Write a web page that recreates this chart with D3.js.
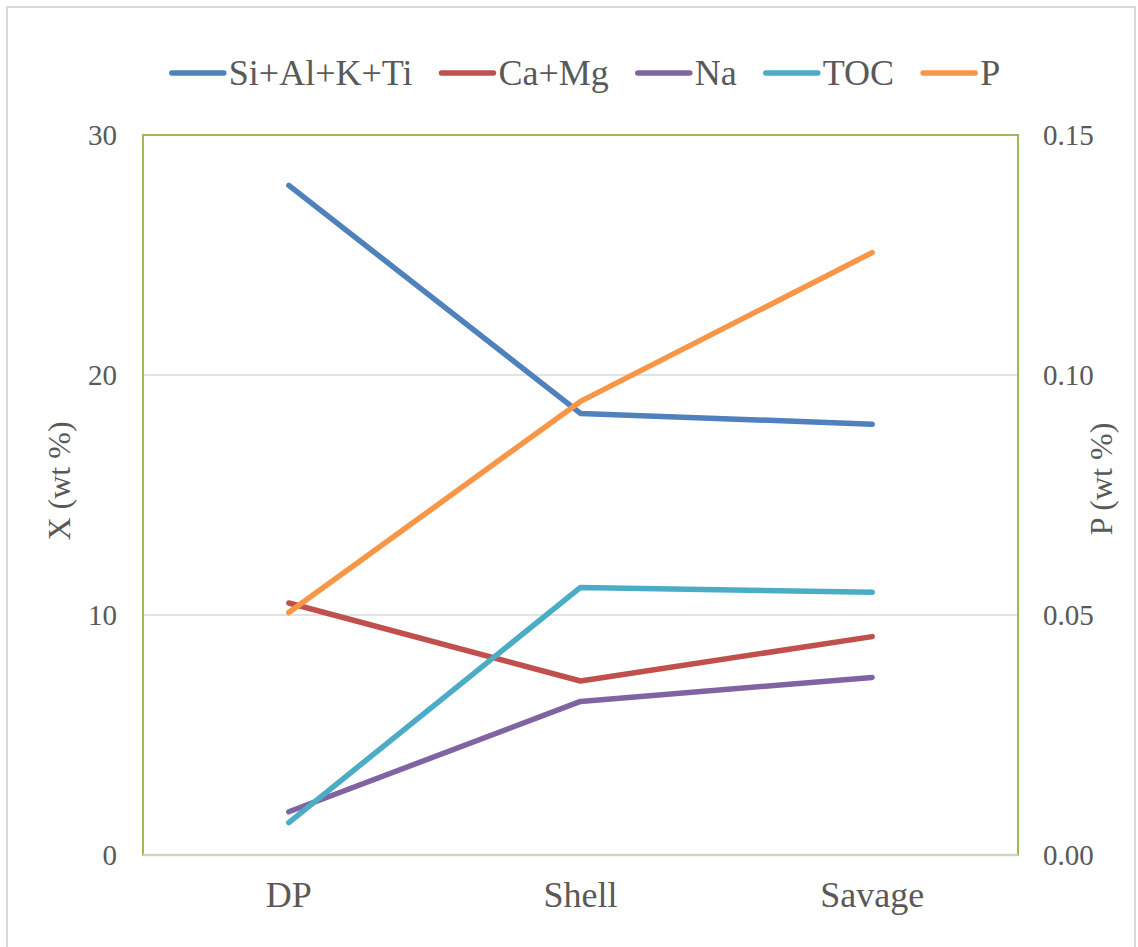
<!DOCTYPE html>
<html>
<head>
<meta charset="utf-8">
<script src="https://cdn.jsdelivr.net/npm/d3@7"></script>
<style>
  html, body { margin: 0; padding: 0; background: #fff; }
  svg { display: block; }
</style>
</head>
<body>
<svg id="chart" width="1138" height="947" font-family="Liberation Serif"></svg>
<script>
// ---- data ----
const categories = ["DP", "Shell", "Savage"];
const seriesNames = ["Si+Al+K+Ti", "Ca+Mg", "Na", "TOC", "P"];
const siAlKTi = [27.9, 18.4, 17.95];
const caMg = [10.5, 7.25, 9.1];
const na = [1.8, 6.4, 7.4];
const toc = [1.35, 11.15, 10.95];
const p = [0.0505, 0.0945, 0.1255];
const leftTicks = [0, 10, 20, 30];
const rightTicks = [0, 0.05, 0.10, 0.15];
const colors = ["#4f81bd", "#c0504d", "#8064a2", "#4bacc6", "#f79646"];

const FONT = "Liberation Serif";
const TXT = "#595959";

const series = [
  { name: seriesNames[0], values: siAlKTi, axis: "left", color: colors[0] },
  { name: seriesNames[1], values: caMg, axis: "left", color: colors[1] },
  { name: seriesNames[2], values: na, axis: "left", color: colors[2] },
  { name: seriesNames[3], values: toc, axis: "left", color: colors[3] },
  { name: seriesNames[4], values: p, axis: "right", color: colors[4] }
];

const svg = d3.select("#chart");
const plot = { left: 143, right: 1018, top: 135, bottom: 855 };

// outer chart border
svg.append("rect")
  .attr("x", 7).attr("y", 7).attr("width", 1128).attr("height", 960)
  .attr("fill", "#fff").attr("stroke", "#d9d9d9").attr("stroke-width", 2);

const x = d3.scaleBand().domain(categories).range([plot.left, plot.right]);
const yL = d3.scaleLinear().domain([0, 30]).range([plot.bottom, plot.top]);
const yR = d3.scaleLinear().domain([0, 0.15]).range([plot.bottom, plot.top]);

// gridlines
svg.append("g").selectAll("line")
  .data(leftTicks.filter(t => t > 0 && t < 30))
  .join("line")
  .attr("x1", plot.left).attr("x2", plot.right)
  .attr("y1", d => yL(d)).attr("y2", d => yL(d))
  .attr("stroke", "#d9d9d9").attr("stroke-width", 1.5);

// plot border (green)
svg.append("rect")
  .attr("x", plot.left).attr("y", plot.top)
  .attr("width", plot.right - plot.left).attr("height", plot.bottom - plot.top)
  .attr("fill", "none").attr("stroke", "#9bbb59").attr("stroke-width", 2);

// category axis line
svg.append("line")
  .attr("x1", plot.left).attr("x2", plot.right)
  .attr("y1", plot.bottom).attr("y2", plot.bottom)
  .attr("stroke", "#cfd5c2").attr("stroke-width", 2.5);

function styleText(sel, size) {
  sel.attr("font-size", size).attr("font-family", FONT).attr("fill", TXT);
}

// left axis
const leftAxis = d3.axisLeft(yL).tickValues(leftTicks).tickSize(0).tickPadding(26).tickFormat(d3.format("d"));
const gL = svg.append("g").attr("transform", `translate(${plot.left},0)`).call(leftAxis);
gL.attr("font-family", FONT);
gL.select(".domain").remove();
styleText(gL.selectAll("text"), 29);

// right axis
const rightAxis = d3.axisRight(yR).tickValues(rightTicks).tickSize(0).tickPadding(25).tickFormat(d3.format(".2f"));
const gR = svg.append("g").attr("transform", `translate(${plot.right},0)`).call(rightAxis);
gR.attr("font-family", FONT);
gR.select(".domain").remove();
styleText(gR.selectAll("text"), 29);

// bottom axis
const bottomAxis = d3.axisBottom(x).tickSize(0).tickPadding(26);
const gB = svg.append("g").attr("transform", `translate(0,${plot.bottom})`).call(bottomAxis);
gB.attr("font-family", FONT);
gB.select(".domain").remove();
styleText(gB.selectAll("text"), 36);

// axis titles
const titles = svg.append("g").attr("font-family", FONT);
styleText(titles.append("text")
  .attr("transform", `translate(70,481) rotate(-90)`)
  .attr("text-anchor", "middle")
  .text("X (wt %)"), 32);
styleText(titles.append("text")
  .attr("transform", `translate(1112,479) rotate(-90)`)
  .attr("text-anchor", "middle")
  .text("P (wt %)"), 32);

// lines
const lineGen = (yScale) => d3.line()
  .x((d, i) => x(categories[i]) + x.bandwidth() / 2)
  .y(d => yScale(d));

svg.append("g").selectAll("path")
  .data(series)
  .join("path")
  .attr("d", s => lineGen(s.axis === "left" ? yL : yR)(s.values))
  .attr("fill", "none")
  .attr("stroke", s => s.color)
  .attr("stroke-width", 5.5)
  .attr("stroke-linecap", "round")
  .attr("stroke-linejoin", "round");

// legend
const legend = svg.append("g").attr("font-family", FONT);
let cx = 0;
series.forEach((s, i) => {
  const g = legend.append("g");
  g.append("line")
    .attr("x1", 2).attr("x2", 54).attr("y1", 0).attr("y2", 0)
    .attr("stroke", s.color).attr("stroke-width", 5.5).attr("stroke-linecap", "round");
  const t = g.append("text").attr("x", 59).attr("y", 12).text(s.name);
  styleText(t, 36);
  const w = 59 + t.node().getComputedTextLength();
  g.attr("transform", `translate(${cx},0)`);
  cx += w + 27;
});
const totalW = cx - 27;
legend.attr("transform", `translate(${585 - totalW / 2},73)`);
</script>
</body>
</html>
